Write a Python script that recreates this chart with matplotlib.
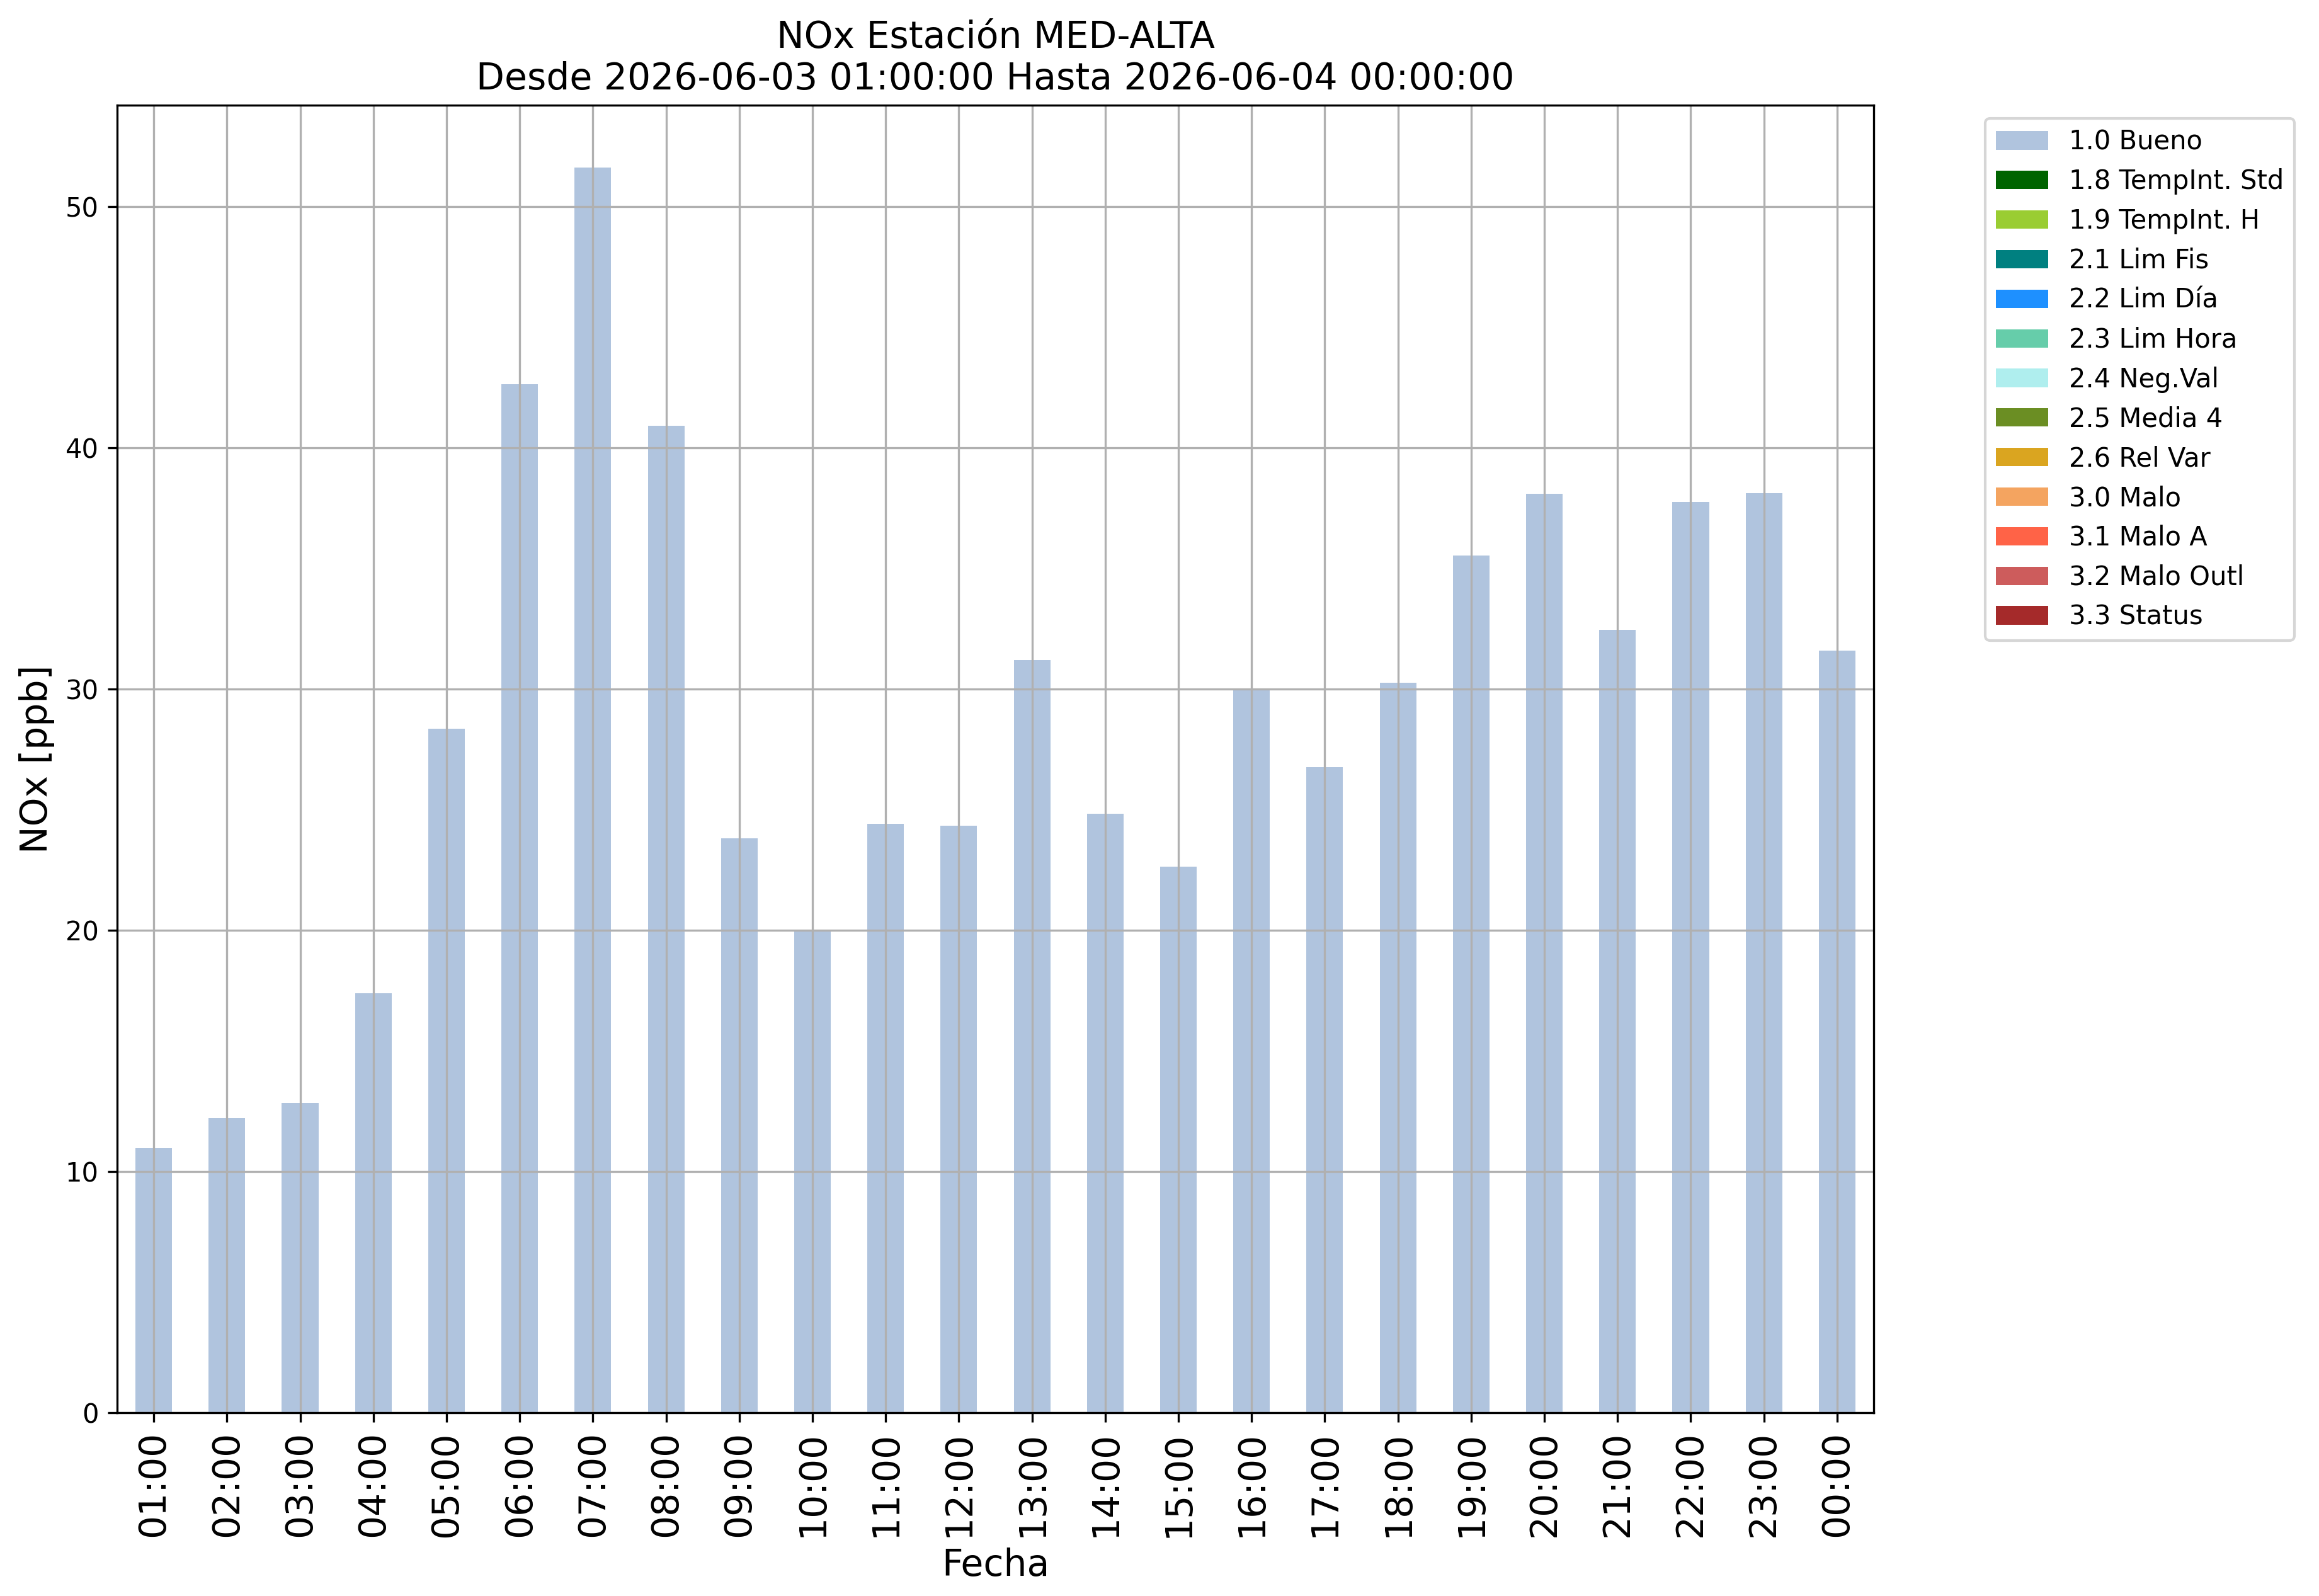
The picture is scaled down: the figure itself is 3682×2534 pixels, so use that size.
import numpy as np
import matplotlib
matplotlib.use("Agg")
import matplotlib.pyplot as plt

# horas y valores NOx (ppb)
horas = ["01:00", "02:00", "03:00", "04:00", "05:00", "06:00", "07:00", "08:00",
         "09:00", "10:00", "11:00", "12:00", "13:00", "14:00", "15:00", "16:00",
         "17:00", "18:00", "19:00", "20:00", "21:00", "22:00", "23:00", "00:00"]
bueno = [10.96, 12.21, 12.84, 17.38, 28.37, 42.64, 51.63, 40.91,
         23.82, 19.98, 24.42, 24.35, 31.2, 24.84, 22.65, 29.98,
         26.77, 30.27, 35.54, 38.09, 32.46, 37.77, 38.12, 31.61]

# categorías de flags (solo "Bueno" tiene datos)
flags = ["1.0 Bueno", "1.8 TempInt. Std", "1.9 TempInt. H", "2.1 Lim Fis",
         "2.2 Lim Día", "2.3 Lim Hora", "2.4 Neg.Val", "2.5 Media 4",
         "2.6 Rel Var", "3.0 Malo", "3.1 Malo A", "3.2 Malo Outl", "3.3 Status"]
colores = ["lightsteelblue", "darkgreen", "yellowgreen", "teal", "dodgerblue",
           "mediumaquamarine", "paleturquoise", "olivedrab", "goldenrod",
           "sandybrown", "tomato", "indianred", "brown"]

valores = {f: np.zeros(len(horas)) for f in flags}
valores["1.0 Bueno"] = np.array(bueno)

fig = plt.figure(figsize=(3682 / 300, 2534 / 300), dpi=300)
ax = fig.add_axes([186 / 3682, 1 - 2243 / 2534, (2975 - 186) / 3682, (2243 - 167) / 2534])

x = np.arange(len(horas))
base = np.zeros(len(horas))
for f, c in zip(flags, colores):
    ax.bar(x, valores[f], width=0.5, bottom=base, color=c, label=f)
    base = base + valores[f]

ax.set_xlim(-0.5, len(horas) - 0.5)
ax.set_ylim(0, max(base) * 1.05)
ax.set_xticks(x)
ax.set_xticklabels(horas, rotation=90, fontsize=14)
ax.tick_params(axis="y", labelsize=10)
ax.grid(True)

ax.set_title("NOx Estación MED-ALTA\nDesde 2026-06-03 01:00:00 Hasta 2026-06-04 00:00:00", fontsize=14)
ax.set_xlabel("Fecha", fontsize=14)
ax.set_ylabel("NOx [ppb]", fontsize=14)
ax.legend(bbox_to_anchor=(1.056, 1), loc="upper left", fontsize=10)

fig.savefig("out.png", dpi=300)
